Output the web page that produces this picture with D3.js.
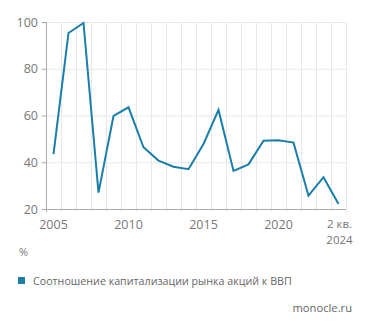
<!DOCTYPE html>
<html><head><meta charset="utf-8">
<script src="https://cdn.jsdelivr.net/npm/d3@7"></script>
<style>
body{margin:0;background:#fff;}
text{font-family:"Open Sans","Noto Sans",sans-serif;}
</style></head>
<body><svg id="c" width="371" height="330"></svg>
<script>
const categories = ["2005","2006","2007","2008","2009","2010","2011","2012","2013","2014","2015","2016","2017","2018","2019","2020","2021","2022","2023","2 кв. 2024"];
const values = [43.5,95.3,99.6,27,59.8,63.5,46.4,40.7,38.1,37,47.8,62.4,36.3,39.1,49.2,49.4,48.4,25.7,33.6,22.1];
const yTicks = [20,40,60,80,100];
const xLabels = ["2005","2010","2015","2020","2 кв. 2024"];
const seriesName = "Соотношение капитализации рынка акций к ВВП";
const unit = "%";
const source = "monocle.ru";

const svg = d3.select("#c");
const mLeft = 46, mRight = 346, mTop = 22, mBottom = 209;
const x = d3.scaleBand().domain(categories).range([mLeft, mRight]);
const y = d3.scaleLinear().domain([20, 100]).range([mBottom, mTop]);
const lineColor = "#1a7fa8";

// vertical grid at band boundaries
const bounds = categories.map(c => x(c)).concat([mRight]);
svg.append("g").selectAll("line").data(bounds.slice(1)).join("line")
  .attr("x1", d => d + 0.5).attr("x2", d => d + 0.5).attr("y1", mTop).attr("y2", mBottom + 3)
  .attr("stroke", "#e8e8e8").attr("stroke-width", 1);
// horizontal grid
svg.append("g").selectAll("line").data(yTicks.slice(1)).join("line")
  .attr("x1", mLeft).attr("x2", mRight).attr("y1", d => y(d) + 0.5).attr("y2", d => y(d) + 0.5)
  .attr("stroke", "#e8e8e8").attr("stroke-width", 1);

// y axis
const ya = svg.append("g").attr("transform", `translate(${mLeft},0)`)
  .call(d3.axisLeft(y).tickValues(yTicks).tickSize(4).tickPadding(4));
ya.select(".domain").attr("stroke", "#aaa").attr("d", `M0.5,${mTop}V${mBottom + 3}`);
ya.selectAll(".tick line").attr("stroke", "#aaa");
ya.selectAll(".tick text").attr("fill", "#777").attr("font-size", 12.5).attr("font-family", "'Open Sans',sans-serif");

// x axis line
svg.append("line").attr("x1", mLeft).attr("x2", mRight).attr("y1", mBottom + 0.5).attr("y2", mBottom + 0.5)
  .attr("stroke", "#aaa");

// x labels
const xl = svg.append("g");
xLabels.forEach(l => {
  const cx = x(l) + x.bandwidth() / 2;
  const parts = l.split(" ");
  if (parts.length > 2) {
    xl.append("text").attr("x", cx + 1).attr("y", 227.5).attr("text-anchor", "middle")
      .attr("fill", "#777").attr("font-size", 11.5).text(parts[0] + " " + parts[1]);
    xl.append("text").attr("x", cx + 1).attr("y", 244).attr("text-anchor", "middle")
      .attr("fill", "#777").attr("font-size", 11.5).text(parts[2]);
  } else {
    xl.append("text").attr("x", cx).attr("y", 229).attr("text-anchor", "middle")
      .attr("fill", "#777").attr("font-size", 12.5).text(l);
  }
});

// line
const line = d3.line().x((d, i) => x(categories[i]) + x.bandwidth() / 2).y(d => y(d));
svg.append("path").datum(values).attr("d", line).attr("fill", "none")
  .attr("stroke", lineColor).attr("stroke-width", 2).attr("stroke-linejoin", "miter");

// unit
svg.append("text").attr("x", 19).attr("y", 256).attr("fill", "#777").attr("font-size", 11).text(unit);

// legend
svg.append("rect").attr("x", 18).attr("y", 277).attr("width", 7).attr("height", 7).attr("fill", lineColor);
svg.append("text").attr("x", 33).attr("y", 284.5).attr("fill", "#666").attr("font-size", 10.7).text(seriesName);

// source
svg.append("text").attr("x", 352).attr("y", 312).attr("text-anchor", "end").attr("fill", "#666").attr("font-size", 11.2).text(source);
</script></body></html>
